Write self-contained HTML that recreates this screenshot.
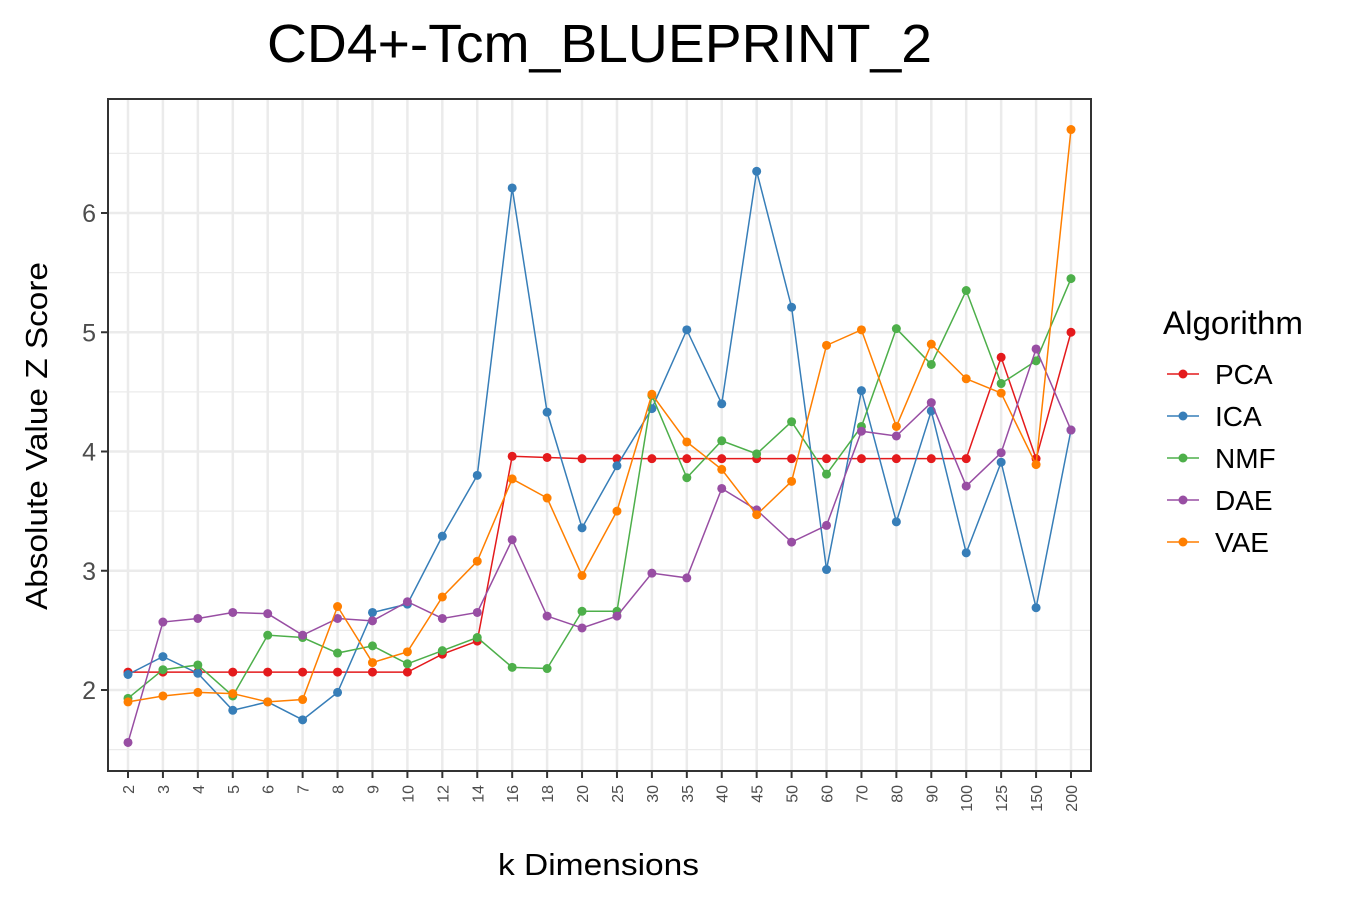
<!DOCTYPE html>
<html><head><meta charset="utf-8"><style>
body{margin:0;background:#fff;font-family:"Liberation Sans",Arial,sans-serif}
svg text{font-family:"Liberation Sans",Arial,sans-serif}
</style></head><body>
<svg id="chart" width="1350" height="900" xmlns="http://www.w3.org/2000/svg">
<text x="267" y="62" font-size="54" textLength="665" lengthAdjust="spacingAndGlyphs" fill="#000">CD4+-Tcm_BLUEPRINT_2</text>
<g id="grid"></g><g id="axes"></g><g id="series"></g>
<text x="498" y="875" font-size="31" textLength="201" lengthAdjust="spacingAndGlyphs" fill="#000">k Dimensions</text>
<text transform="translate(47,610) rotate(-90)" font-size="31" textLength="348" lengthAdjust="spacingAndGlyphs" fill="#000">Absolute Value Z Score</text>
<g id="legend"><text x="1163" y="334" font-size="32" textLength="140" lengthAdjust="spacingAndGlyphs" fill="#000">Algorithm</text></g>
</svg>
<script>
const categories=["2","3","4","5","6","7","8","9","10","12","14","16","18","20","25","30","35","40","45","50","60","70","80","90","100","125","150","200"];
const seriesNames=["PCA","ICA","NMF","DAE","VAE"];
const seriesColors=["#e41a1c","#377eb8","#4daf4a","#984ea3","#ff7f00"];
const pca=[2.15,2.15,2.15,2.15,2.15,2.15,2.15,2.15,2.15,2.30,2.41,3.96,3.95,3.94,3.94,3.94,3.94,3.94,3.94,3.94,3.94,3.94,3.94,3.94,3.94,4.79,3.94,5.0];
const ica=[2.13,2.28,2.14,1.83,1.90,1.75,1.98,2.65,2.72,3.29,3.80,6.21,4.33,3.36,3.88,4.36,5.02,4.40,6.35,5.21,3.01,4.51,3.41,4.34,3.15,3.91,2.69,4.18];
const nmf=[1.93,2.17,2.21,1.95,2.46,2.44,2.31,2.37,2.22,2.33,2.44,2.19,2.18,2.66,2.66,4.47,3.78,4.09,3.98,4.25,3.81,4.21,5.03,4.73,5.35,4.57,4.76,5.45];
const dae=[1.56,2.57,2.60,2.65,2.64,2.46,2.60,2.58,2.74,2.60,2.65,3.26,2.62,2.52,2.62,2.98,2.94,3.69,3.51,3.24,3.38,4.17,4.13,4.41,3.71,3.99,4.86,4.18];
const vae=[1.90,1.95,1.98,1.97,1.90,1.92,2.70,2.23,2.32,2.78,3.08,3.77,3.61,2.96,3.50,4.48,4.08,3.85,3.47,3.75,4.89,5.02,4.21,4.90,4.61,4.49,3.89,6.70];
const yTicks=[2,3,4,5,6];
const yMinor=[1.5,2.5,3.5,4.5,5.5,6.5];
const allSeries=[pca,ica,nmf,dae,vae];

const NS="http://www.w3.org/2000/svg";
const L=108,R=1091,T=99,B=771;
const step=(1071-128)/(categories.length-1);
function xs(i){return 128+i*step;}
function ys(v){return 690-(v-2)*119.25;}
function mk(tag,attrs,parent){const e=document.createElementNS(NS,tag);for(const k in attrs)e.setAttribute(k,attrs[k]);parent.appendChild(e);return e;}
const grid=document.getElementById('grid'),axes=document.getElementById('axes'),ser=document.getElementById('series'),leg=document.getElementById('legend');
yMinor.forEach(v=>{const l=mk('line',{x1:L,x2:R,y1:ys(v),y2:ys(v),stroke:'#ebebeb','stroke-width':1.2},grid);

});
yTicks.forEach(v=>{const l=mk('line',{x1:L,x2:R,y1:ys(v),y2:ys(v),stroke:'#ebebeb','stroke-width':2.5},grid);


mk('line',{x1:L-7,x2:L,y1:ys(v),y2:ys(v),stroke:'#333','stroke-width':2},axes);
const t=mk('text',{x:L-12,y:ys(v)+9,'font-size':25,'text-anchor':'end',fill:'#4d4d4d'},axes);t.textContent=v;

});
categories.forEach((c,i)=>{const x=xs(i);
const l=mk('line',{x1:x,x2:x,y1:T,y2:B,stroke:'#ebebeb','stroke-width':2.5},grid);


mk('line',{x1:x,x2:x,y1:B,y2:B+7,stroke:'#333','stroke-width':2},axes);
const t=mk('text',{transform:`translate(${x+6},${B+14}) rotate(-90)`,'font-size':16,'text-anchor':'end',fill:'#4d4d4d'},axes);t.textContent=c;

});
const frame=mk('rect',{x:L,y:T,width:R-L,height:B-T,fill:'none',stroke:'#333','stroke-width':2},axes);


allSeries.forEach((s,k)=>{const g=mk('g',{},ser);


const p=mk('polyline',{points:s.map((v,i)=>xs(i)+','+ys(v)).join(' '),fill:'none',stroke:seriesColors[k],'stroke-width':1.5},g);


s.forEach((v,i)=>{const c=mk('circle',{cx:xs(i),cy:ys(v),r:4.5,fill:seriesColors[k]},g);

});
const y=374+k*42;
const lg=mk('g',{},leg);


mk('line',{x1:1167,x2:1199,y1:y,y2:y,stroke:seriesColors[k],'stroke-width':1.5},lg);
mk('circle',{cx:1183,cy:y,r:4.5,fill:seriesColors[k]},lg);
const t=mk('text',{x:1215,y:y+10,'font-size':28,fill:'#000'},lg);t.textContent=seriesNames[k];});
</script>
</body></html>
